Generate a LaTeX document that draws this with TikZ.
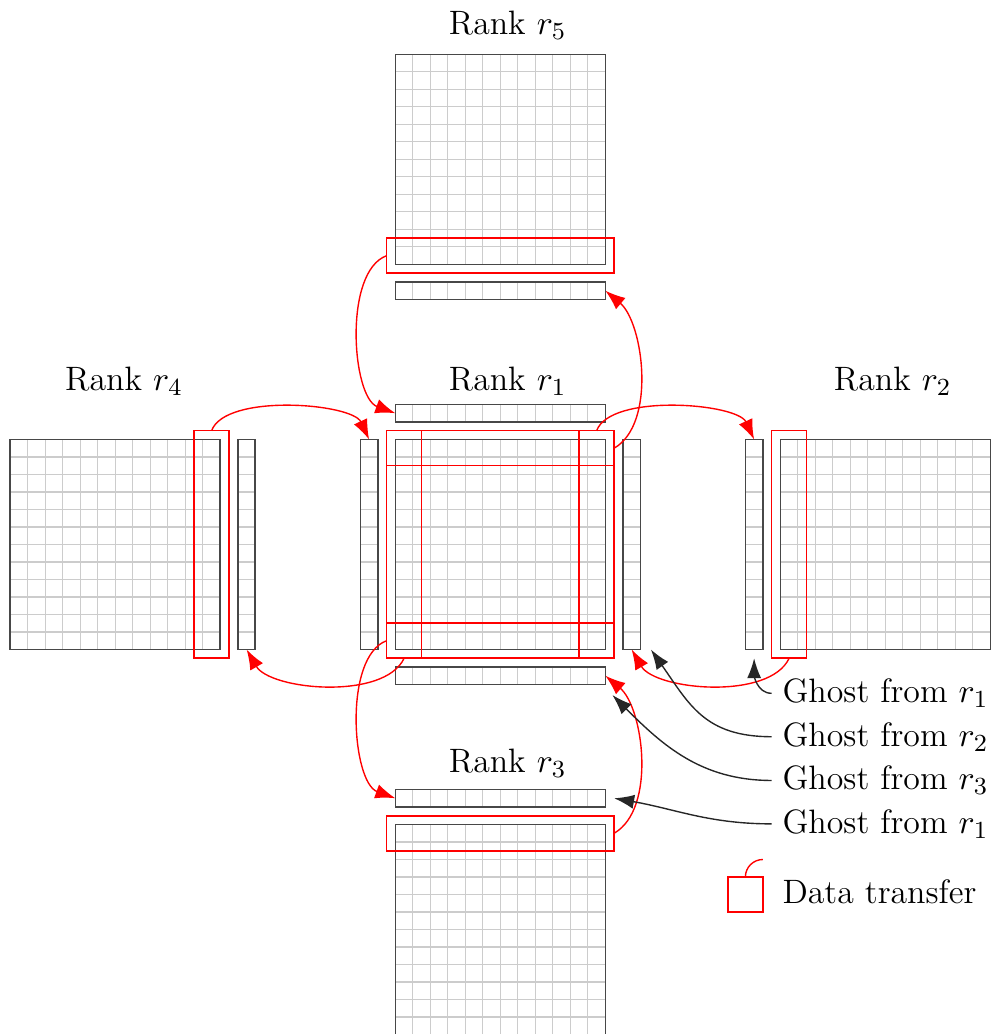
\documentclass[tikz,border=0pt]{standalone}
\usetikzlibrary{arrows.meta,fit,calc}
\begin{document}
\begin{tikzpicture}[x=0.2cm,y=0.2cm,
  cellgrid/.style={draw=black!20, line width=0.35pt},
  block/.style={draw=black!72, line width=0.55pt, inner sep=0pt, outer sep=0pt},
  xfer/.style={draw=red, line width=0.5pt, inner sep=0pt, outer sep=0pt},
  sendarrow/.style={draw=red, line width=0.45pt, -{Latex[length=6.5pt,width=4.8pt]}},
  notearrow/.style={draw=black!85, line width=0.45pt, -{Latex[length=6.5pt,width=4.6pt]}},
  ranklabel/.style={font=\fontsize{11}{13}\selectfont, anchor=base},
  notelabel/.style={font=\fontsize{11}{13}\selectfont, anchor=base west},
]
\useasboundingbox (-22.59,-21.97) rectangle (34.15,37.11);

% cell grids of the five subdomains and of their ghost layers
\foreach \a/\b/\c/\d in {0/0/12/12, 0/22/12/34, -22/0/-10/12, 22/0/34/12, 0/-22/12/-10,
  0/13/12/14, 0/-2/12/-1, -2/0/-1/12, 13/0/14/12,
  0/20/12/21, -9/0/-8/12, 20/0/21/12, 0/-9/12/-8}{
  \foreach \i in {\a,...,\c} \draw[cellgrid] (\i,\b) -- (\i,\d);
  \foreach \j in {\b,...,\d} \draw[cellgrid] (\a,\j) -- (\c,\j);
}

% subdomains
\node[block, fit={(0,0)(12,12)}] (B1) {};
\node[block, fit={(0,22)(12,34)}] (B5) {};
\node[block, fit={(-22,0)(-10,12)}] (B4) {};
\node[block, fit={(22,0)(34,12)}] (B2) {};
\node[block, fit={(0,-22)(12,-10)}] (B3) {};

% ghost layers
\node[block, fit={(0,13)(12,14)}] (g1t) {};
\node[block, fit={(0,-2)(12,-1)}] (g1b) {};
\node[block, fit={(-2,0)(-1,12)}] (g1l) {};
\node[block, fit={(13,0)(14,12)}] (g1r) {};
\node[block, fit={(0,20)(12,21)}] (g5) {};
\node[block, fit={(-9,0)(-8,12)}] (g4) {};
\node[block, fit={(20,0)(21,12)}] (g2) {};
\node[block, fit={(0,-9)(12,-8)}] (g3) {};

% boundary strips that are sent
\node[xfer, fit={(-0.5,21.5)(12.5,23.5)}] (x5) {};
\node[xfer, fit={(-0.5,10.5)(12.5,12.5)}] (xt) {};
\node[xfer, fit={(-0.5,-0.5)(12.5,1.5)}] (xb) {};
\node[xfer, fit={(-0.5,-0.5)(1.5,12.5)}] (xl) {};
\node[xfer, fit={(10.5,-0.5)(12.5,12.5)}] (xr) {};
\node[xfer, fit={(-11.5,-0.5)(-9.5,12.5)}] (x4) {};
\node[xfer, fit={(21.5,-0.5)(23.5,12.5)}] (x2) {};
\node[xfer, fit={(-0.5,-11.5)(12.5,-9.5)}] (x3) {};

% transfers
\draw[sendarrow] (x5.west) to[out=200,in=160,looseness=0.75] (g1t.west);
\draw[sendarrow] (xt.east) to[out=30,in=-40,looseness=0.8] (g5.east);
\draw[sendarrow] (xr.north) to[out=70,in=115,looseness=0.65] (g2.north);
\draw[sendarrow] (x4.north) to[out=70,in=115,looseness=0.65] (g1l.north);
\draw[sendarrow] (xb.west) to[out=200,in=160,looseness=0.75] (g3.west);
\draw[sendarrow] (xl.south) to[out=245,in=-60,looseness=0.76] (g4.south);
\draw[sendarrow] (x2.south) to[out=245,in=-60,looseness=0.76] (g1r.south);
\draw[sendarrow] (x3.east) to[out=30,in=-40,looseness=0.8] (g1b.east);

% rank labels
\node[ranklabel] (L5) at (6.42,35.15) {Rank $r_5$};
\node[ranklabel] (L1) at (6.42,14.8) {Rank $r_1$};
\node[ranklabel] (L4) at (-15.5,14.8) {Rank $r_4$};
\node[ranklabel] (L2) at (28.42,14.8) {Rank $r_2$};
\node[ranklabel] (L3) at (6.42,-7.05) {Rank $r_3$};

% annotations
\node[notelabel] (n1) at (21.5,-3.04) {Ghost from $r_1$};
\node[notelabel] (n2) at (21.5,-5.52) {Ghost from $r_2$};
\node[notelabel] (n3) at (21.5,-8.02) {Ghost from $r_3$};
\node[notelabel] (n4) at (21.5,-10.5) {Ghost from $r_1$};
\coordinate (p1) at ($(g2.south)+(0,-0.5)$);
\coordinate (p2) at ($(g1r.south east)+(0.6,0)$);
\coordinate (p3) at ($(g1b.south east)+(0.4,-0.6)$);
\coordinate (p4) at ($(g3.east)+(0.5,0)$);
\draw[notearrow] (n1.west) to[out=180,in=-90] (p1);
\draw[notearrow] (n2.west) to[out=180,in=-55,looseness=1.15] (p2);
\draw[notearrow] (n3.west) to[out=180,in=-45] (p3);
\draw[notearrow] (n4.west) to[out=180,in=-10] (p4);

% key
\node[xfer, fit={(19,-15)(21,-13)}] (key) {};
\coordinate (keytail) at (21,-12);
\draw[red, line width=0.45pt] (key.north) to[out=90,in=180] (keytail);
\node[notelabel] (keytext) at (21.5,-14.49) {Data transfer};
\end{tikzpicture}
\end{document}
